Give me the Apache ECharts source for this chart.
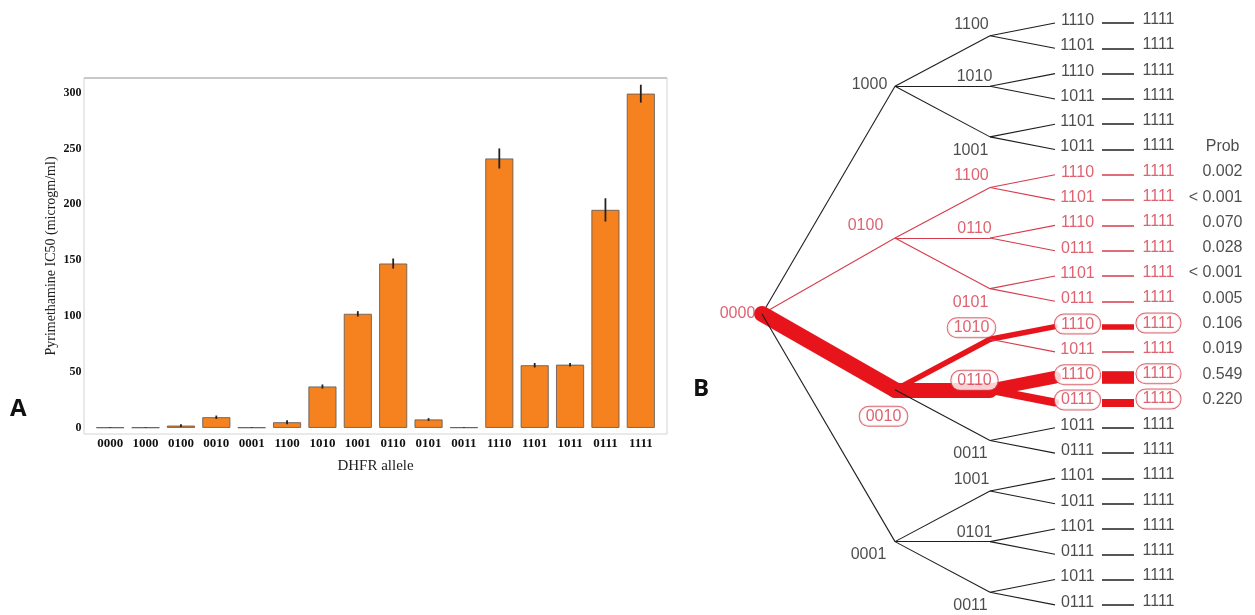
<!DOCTYPE html>
<html>
<head>
<meta charset="utf-8">
<script src="https://cdn.jsdelivr.net/npm/echarts@6/dist/echarts.min.js"></script>
<style>
  html, body { margin: 0; padding: 0; background: #fff; }
  #chart { width: 1255px; height: 615px; }
</style>
</head>
<body>
<div id="chart"></div>
<script>
// panel A data
const alleles = ['0000', '1000', '0100', '0010', '0001', '1100', '1010', '1001',
  '0110', '0101', '0011', '1110', '1101', '1011', '0111', '1111'];
const ic50 = [0.3, 0.3, 2, 9.5, 0.3, 5, 37, 102, 147, 7.5, 0.4, 241, 56, 56.5, 195, 299];
const ic50Err = [0.3, 0.3, 1.2, 1.5, 0.3, 1.8, 1.8, 2.4, 4.5, 1.2, 0.3, 9, 2, 1.6, 10.4, 8];
const yTicks = [0, 50, 100, 150, 200, 250, 300];

// panel B data: 4 first steps, 3 second steps each, 2 third steps each
const rootAllele = '0000';
const firstAllele = ['1000', '0100', '0010', '0001'];
const midAllele = ['1100', '1010', '1001', '1100', '0110', '0101',
  '1010', '0110', '0011', '1001', '0101', '0011'];
const leafAllele = ['1110', '1101', '1110', '1011', '1101', '1011',
  '1110', '1101', '1110', '0111', '1101', '0111',
  '1110', '1011', '1110', '0111', '1011', '0111',
  '1101', '1011', '1101', '0111', '1011', '0111'];
const endAllele = '1111';
const leafProb = [null, null, null, null, null, null,
  0.002, 0.0005, 0.070, 0.028, 0.0005, 0.005,
  0.106, 0.019, 0.549, 0.220, null, null,
  null, null, null, null, null, null];
const leafProbText = [null, null, null, null, null, null,
  '0.002', '< 0.001', '0.070', '0.028', '< 0.001', '0.005',
  '0.106', '0.019', '0.549', '0.220', null, null,
  null, null, null, null, null, null];

// layout of the tree columns (x in px of panel B axis)
const colX = { root: 762, first: 895, mid: 990, leafIn: 1055, leafLabel: 1078, leafOut: 1102, endIn: 1134, endLabel: 1159, prob: 1243 };
const firstLabelOffset = [[-25, -1], [-29, -12], [-11, 27], [-26, 13]];
const midLabelOffset = [[-18, -11], [-15, -9], [-19, 14]];

const RED_THICK = '#e8141c';
const RED = '#d63b4b';
const BLACK = '#1e1e1e';
const FONT_B = 'Liberation Sans';

function thick(h) { return h > 0 ? 17 * Math.sqrt(h) : 1.1; }
function colorOf(h, colored) { return h > 0 ? RED_THICK : (colored ? RED : BLACK); }

// build tree nodes
const leaves = leafAllele.map((name, i) => {
  const p = leafProb[i];
  return { name, y: i, colored: p !== null, h: p !== null && p >= 0.1 ? p : 0 };
});
const mids = midAllele.map((name, j) => {
  const ch = [leaves[2 * j], leaves[2 * j + 1]];
  return { name, y: (ch[0].y + ch[1].y) / 2, colored: ch.some(c => c.colored), h: ch[0].h + ch[1].h, ch };
});
const firsts = firstAllele.map((name, k) => {
  const ch = mids.slice(3 * k, 3 * k + 3);
  return { name, y: ch.reduce((s, c) => s + c.y, 0) / 3, colored: ch.some(c => c.colored), h: ch.reduce((s, c) => s + c.h, 0), ch };
});
const rootY = firsts.reduce((s, c) => s + c.y, 0) / firsts.length;

const edges = [];
function addEdge(x1, y1, x2, y2, h, colored) {
  edges.push({
    coords: [[x1, y1], [x2, y2]],
    lineStyle: { width: thick(h), color: colorOf(h, colored), cap: h > 0 ? 'round' : 'butt', opacity: 1 }
  });
}
firsts.forEach(f => {
  addEdge(colX.root, rootY, colX.first, f.y, f.h, f.colored);
  f.ch.forEach(m => {
    addEdge(colX.first, f.y, colX.mid, m.y, m.h, m.colored);
    m.ch.forEach(l => {
      addEdge(colX.mid, m.y, colX.leafIn, l.y, l.h, l.colored);
      edges.push({
        coords: [[colX.leafOut, l.y], [colX.endIn, l.y]],
        lineStyle: { width: l.h > 0 ? thick(l.h) : 1.5, color: colorOf(l.h, l.colored), cap: 'butt', opacity: 1 }
      });
    });
  });
});

const boxStyle = { borderColor: '#d2444f', borderWidth: 1, borderRadius: 9, padding: [2, 6, 1, 6], backgroundColor: '#fff' };
const labels = [];
function addLabel(x, y, text, color, off, boxed, extra) {
  labels.push({
    value: [x, y],
    label: Object.assign({
      show: true, formatter: text, position: [0, 0], align: 'center', verticalAlign: 'middle',
      offset: off, color: color, fontFamily: FONT_B, fontSize: 16
    }, boxed ? boxStyle : {}, extra || {})
  });
}
addLabel(colX.root, rootY, rootAllele, RED, [-24, 0], false);
firsts.forEach((f, k) => {
  addLabel(colX.first, f.y, f.name, f.colored ? RED : BLACK, firstLabelOffset[k], f.h > 0);
});
mids.forEach((m, j) => {
  addLabel(colX.mid, m.y, m.name, m.colored ? RED : BLACK, midLabelOffset[j % 3], m.h > 0);
});
leaves.forEach((l, i) => {
  const c = l.colored ? RED : BLACK;
  addLabel(colX.leafLabel, l.y, l.name, c, [0, -2], l.h > 0);
  addLabel(colX.endLabel, l.y, endAllele, c, [0, -3], l.h > 0);
  if (leafProbText[i]) {
    addLabel(colX.prob, l.y, leafProbText[i], BLACK, [0, -3], false, { position: 'left', distance: 0, align: 'right' });
  }
});
addLabel(colX.prob, 5, 'Prob', BLACK, [-3, -3], false, { position: 'left', distance: 0, align: 'right' });

const chart = echarts.init(document.getElementById('chart'), null, { renderer: 'canvas' });
chart.setOption({
  animation: false,
  backgroundColor: '#fff',
  grid: [
    { left: 92.5, top: 78, width: 566, height: 356 },
    { left: 700, top: 0, width: 555, height: 615 }
  ],
  xAxis: [
    {
      type: 'category', gridIndex: 0, data: alleles,
      axisLine: { show: false }, axisTick: { show: false },
      axisLabel: { color: '#111', fontFamily: 'Liberation Serif', fontWeight: 'bold', fontSize: 13, margin: 3 },
      name: 'DHFR allele', nameLocation: 'middle', nameGap: 25,
      nameTextStyle: { color: '#222', fontFamily: 'Liberation Serif', fontSize: 15 }
    },
    { type: 'value', gridIndex: 1, min: 700, max: 1255, show: false }
  ],
  yAxis: [
    {
      type: 'value', gridIndex: 0, min: -5.5, max: 313,
      axisLine: { show: false }, axisTick: { show: false }, splitLine: { show: false },
      axisLabel: { customValues: yTicks, color: '#111', fontFamily: 'Liberation Serif', fontWeight: 'bold', fontSize: 12, margin: 11 },
      name: 'Pyrimethamine IC50 (microgm/ml)', nameLocation: 'middle', nameGap: 34,
      nameTextStyle: { color: '#222', fontFamily: 'Liberation Serif', fontSize: 14 }
    },
    { type: 'value', gridIndex: 1, min: -0.91, max: 23.4, inverse: true, show: false }
  ],
  graphic: [
    { type: 'rect', z: 0, shape: { x: 84, y: 78, width: 583, height: 356 }, style: { fill: 'none', stroke: '#d4d4d4', lineWidth: 1 } },
    { type: 'line', z: 0, shape: { x1: 84, y1: 78, x2: 667, y2: 78 }, style: { stroke: '#c8c8c8', lineWidth: 2 } },
    { type: 'text', left: 10, top: 397, style: { text: 'A', font: 'bold 24px "Open Sans"', fill: '#111' } },
    { type: 'text', left: 693, top: 377, style: { text: 'B', font: 'bold 24px "Open Sans"', fill: '#111' } }
  ],
  series: [
    {
      type: 'bar', xAxisIndex: 0, yAxisIndex: 0, data: ic50, barWidth: 28,
      itemStyle: { color: '#f5821f', borderColor: '#555', borderWidth: 0.8 }
    },
    {
      type: 'custom', xAxisIndex: 0, yAxisIndex: 0, z: 5,
      data: ic50.map((v, i) => [i, v, ic50Err[i]]),
      renderItem(params, api) {
        const i = api.value(0), v = api.value(1), e = api.value(2);
        const top = api.coord([i, v + e]);
        const bot = api.coord([i, v - e]);
        return { type: 'line', shape: { x1: top[0], y1: top[1], x2: bot[0], y2: bot[1] }, style: { stroke: '#222', lineWidth: 1.8 } };
      }
    },
    {
      type: 'lines', coordinateSystem: 'cartesian2d', xAxisIndex: 1, yAxisIndex: 1, z: 2,
      polyline: false, silent: true, data: edges
    },
    {
      type: 'scatter', xAxisIndex: 1, yAxisIndex: 1, z: 5, symbol: 'circle', symbolSize: 1,
      itemStyle: { color: 'transparent' }, silent: true, data: labels
    }
  ]
});
</script>
</body>
</html>
